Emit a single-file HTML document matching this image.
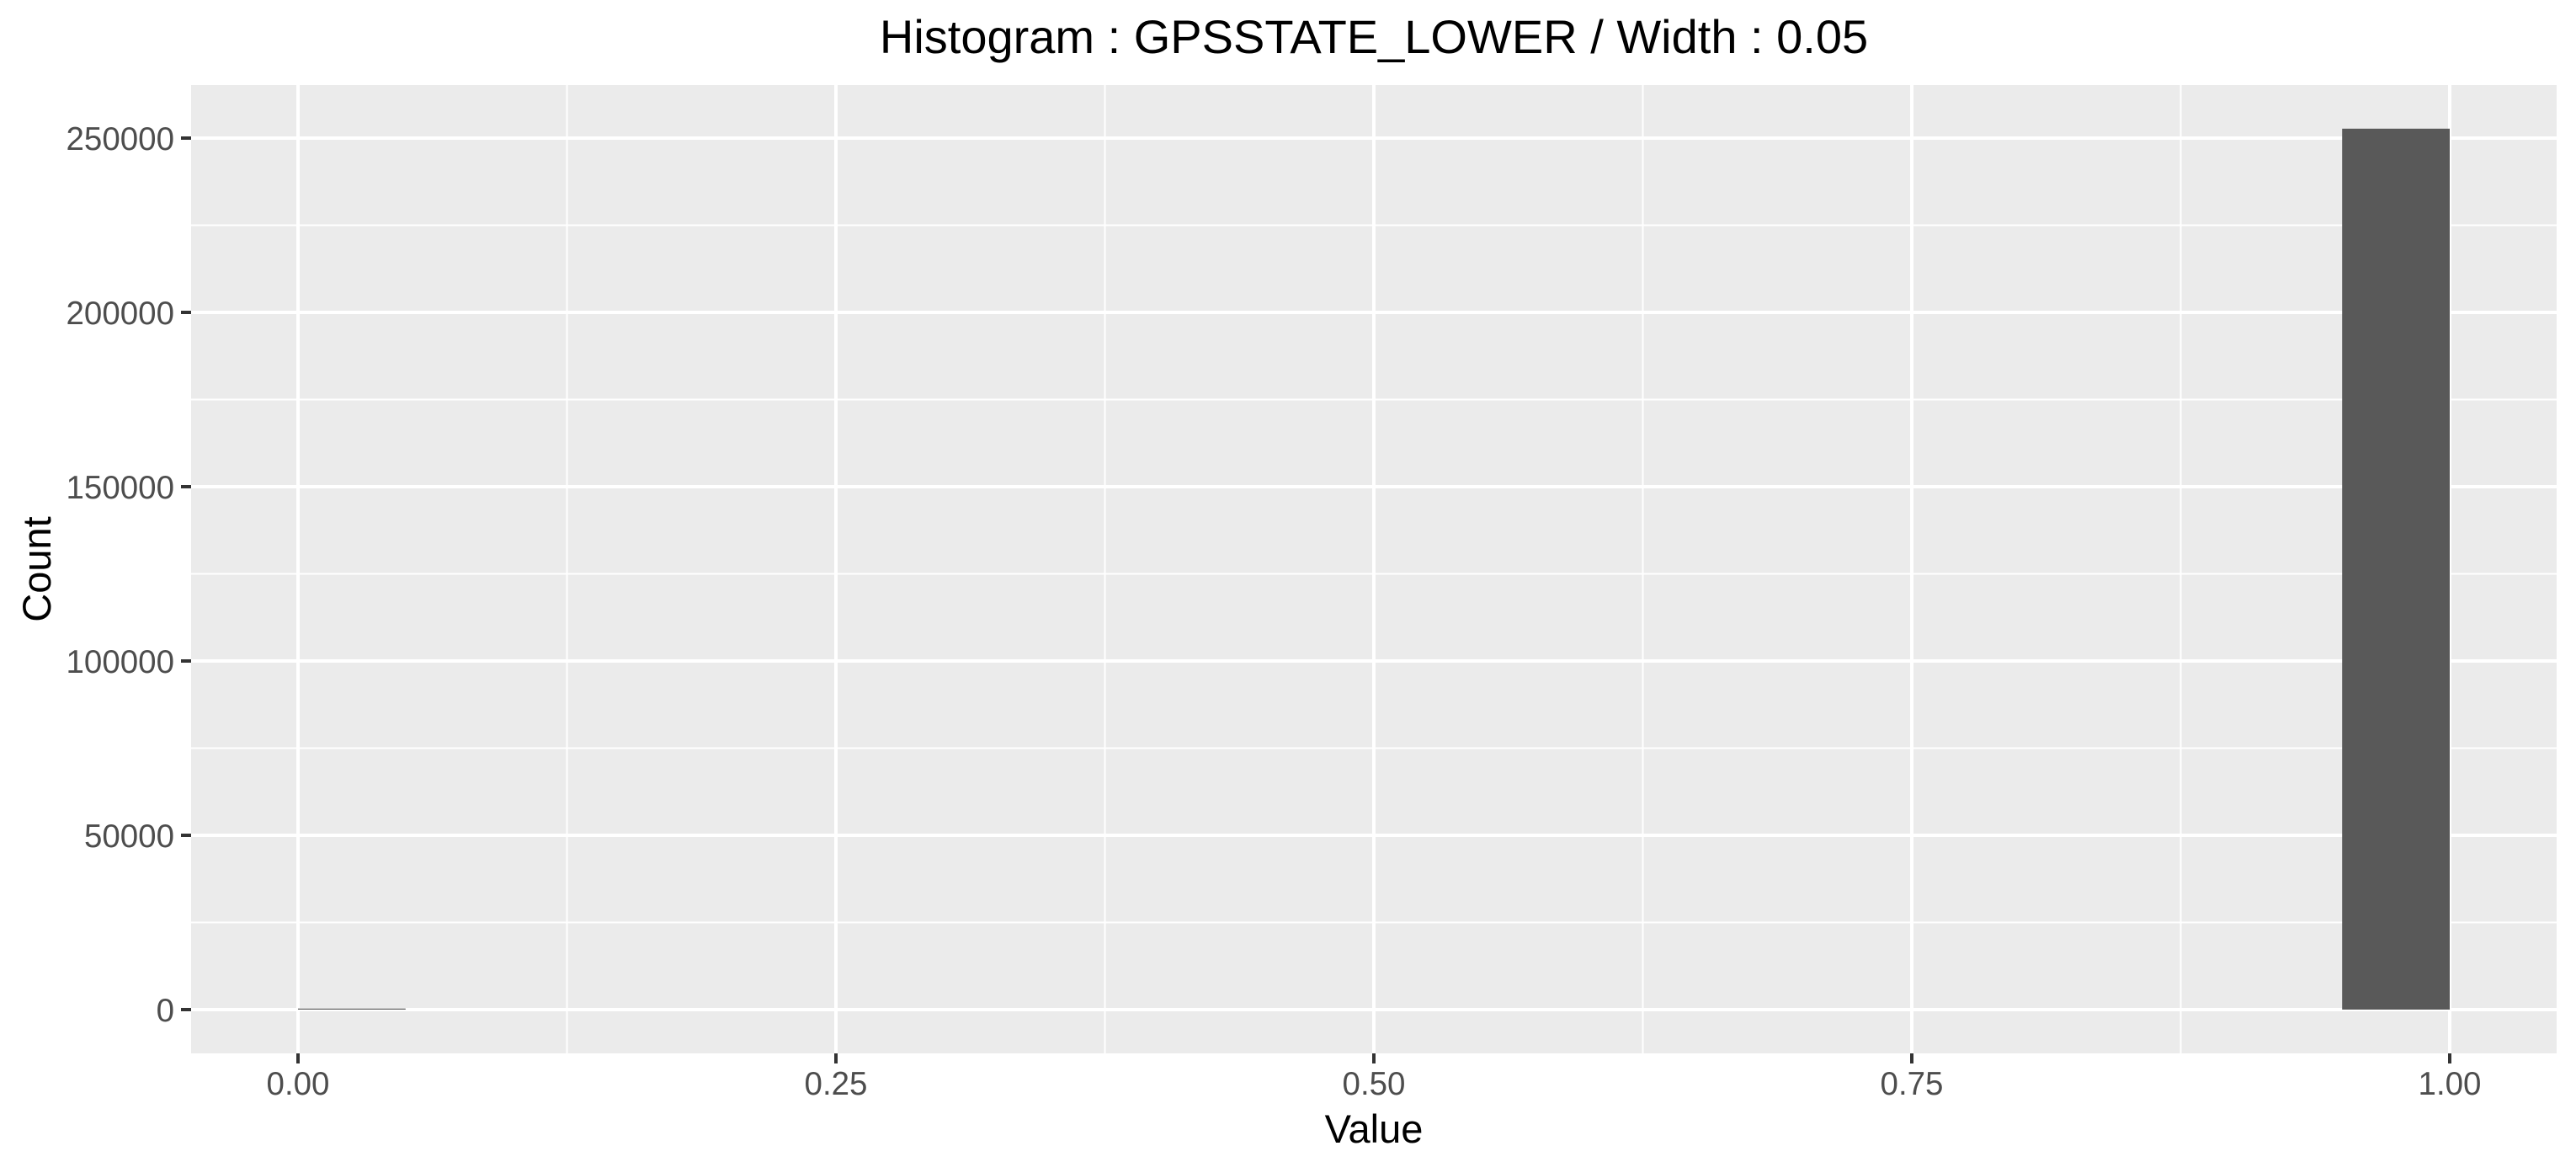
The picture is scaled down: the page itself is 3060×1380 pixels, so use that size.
<!DOCTYPE html>
<html><head><meta charset="utf-8"><style>
html,body{margin:0;padding:0;background:#fff;}
svg{display:block;font-family:"Liberation Sans",Arial,sans-serif;}
</style></head><body>
<svg id="chart" width="3060" height="1380" viewBox="0 0 3060 1380" xmlns="http://www.w3.org/2000/svg">
<rect width="3060" height="1380" fill="#fff"/>
<text x="1632" y="63" font-size="56" text-anchor="middle" fill="#000">Histogram : GPSSTATE_LOWER / Width : 0.05</text>
<rect x="227" y="101" width="2810" height="1150" fill="#ebebeb"/>
<g id="grid"></g>
<g id="bars"></g>
<g id="axes"></g>
<text x="1632" y="1357" font-size="47" text-anchor="middle" fill="#000">Value</text>
<text transform="translate(60,676) rotate(-90)" font-size="47" text-anchor="middle" fill="#000">Count</text>
</svg>
<script>
const binStarts = [0.0, 0.95];
const binCounts = [300, 252700];
const binWidth = 0.05;
const xTicks = [0, 0.25, 0.5, 0.75, 1.0];
const xTickLabels = ["0.00", "0.25", "0.50", "0.75", "1.00"];
const yTicks = [0, 50000, 100000, 150000, 200000, 250000];
const yTickLabels = ["0", "50000", "100000", "150000", "200000", "250000"];

const NS = "http://www.w3.org/2000/svg";
const PL = 227, PR = 3037, PT = 101, PB = 1251;
function xs(v){ return 354 + v * 2556; }
function ys(v){ return 1199 - v * (1035 / 250000); }
function mk(tag, attrs, parent){
  const e = document.createElementNS(NS, tag);
  for (const k in attrs) e.setAttribute(k, attrs[k]);
  parent.appendChild(e);
  return e;
}
const grid = document.getElementById('grid');
const bars = document.getElementById('bars');
const axes = document.getElementById('axes');
for (let i = 0; i < xTicks.length - 1; i++) {
  const m = (xTicks[i] + xTicks[i+1]) / 2;
  const l = mk('line', {x1: xs(m), x2: xs(m), y1: PT, y2: PB, stroke: '#fff', 'stroke-width': 2}, grid);
  
  
}
for (let i = 0; i < yTicks.length - 1; i++) {
  const m = (yTicks[i] + yTicks[i+1]) / 2;
  const l = mk('line', {x1: PL, x2: PR, y1: ys(m), y2: ys(m), stroke: '#fff', 'stroke-width': 2}, grid);
  
  
}
{
  const m = yTicks[yTicks.length-1] + 25000;
  if (ys(m) > PT) {
    const l = mk('line', {x1: PL, x2: PR, y1: ys(m), y2: ys(m), stroke: '#fff', 'stroke-width': 2}, grid);
    
    
  }
}
xTicks.forEach((v, i) => {
  const l = mk('line', {x1: xs(v), x2: xs(v), y1: PT, y2: PB, stroke: '#fff', 'stroke-width': 4}, grid);
  
  
  const t = mk('line', {x1: xs(v), x2: xs(v), y1: PB, y2: PB + 12, stroke: '#333', 'stroke-width': 4}, axes);
  
  
  const tx = mk('text', {x: xs(v), y: 1300, 'font-size': 38.5, 'text-anchor': 'middle', fill: '#4d4d4d'}, axes);
  tx.textContent = xTickLabels[i];
  
  
});
yTicks.forEach((v, i) => {
  const l = mk('line', {x1: PL, x2: PR, y1: ys(v), y2: ys(v), stroke: '#fff', 'stroke-width': 4}, grid);
  
  
  const t = mk('line', {x1: PL - 12, x2: PL, y1: ys(v), y2: ys(v), stroke: '#333', 'stroke-width': 4}, axes);
  
  
  const tx = mk('text', {x: 207, y: ys(v) + 14, 'font-size': 38.5, 'text-anchor': 'end', fill: '#4d4d4d'}, axes);
  tx.textContent = yTickLabels[i];
  
  
});
binStarts.forEach((s, i) => {
  const x0 = xs(s), x1 = xs(s + binWidth);
  const y0 = ys(binCounts[i]), yb = ys(0);
  const r = mk('rect', {x: x0, y: Math.min(y0, yb - 1), width: x1 - x0, height: Math.max(yb - y0, 1), fill: '#595959'}, bars);
  
  
});
</script>
</body></html>
